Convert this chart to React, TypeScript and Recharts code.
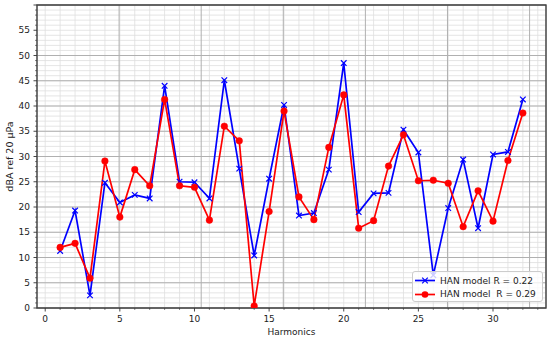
import React from 'react';
import { LineChart, Line, XAxis, YAxis, CartesianGrid, ReferenceArea, Legend } from 'recharts';

const harmonics = [1, 2, 3, 4, 5, 6, 7, 8, 9, 10, 11, 12, 13, 14, 15, 16, 17, 18, 19, 20, 21, 22, 23, 24, 25, 26, 27, 28, 29, 30, 31, 32];
const hanR022 = [11.3, 19.3, 2.5, 24.8, 20.9, 22.4, 21.7, 44.0, 25.0, 24.9, 21.7, 45.1, 27.6, 10.4, 25.6, 40.2, 18.3, 18.8, 27.4, 48.5, 19.0, 22.7, 22.8, 35.3, 30.8, 6.5, 19.8, 29.4, 15.8, 30.4, 30.9, 41.3];
const hanR029 = [12.0, 12.8, 5.9, 29.1, 18.0, 27.4, 24.2, 41.3, 24.2, 23.9, 17.4, 36.0, 33.1, 0.4, 19.1, 39.0, 22.0, 17.5, 31.8, 42.2, 15.8, 17.3, 28.1, 34.3, 25.2, 25.3, 24.7, 16.1, 23.2, 17.2, 29.2, 38.6];
const seriesNames = ['HAN model R = 0.22', 'HAN model  R = 0.29'];
const xMajorTicks = [0, 5, 10, 15, 20, 25, 30];
const xMinorTicks = [0, 1, 2, 3, 4, 5, 6, 7, 8, 9, 10, 11, 12, 13, 14, 15, 16, 17, 18, 19, 20, 21, 22, 23, 24, 25, 26, 27, 28, 29, 30, 31, 32, 33];
const yMajorTicks = [0, 5, 10, 15, 20, 25, 30, 35, 40, 45, 50, 55, 60];
const yLabelTicks = [0, 5, 10, 15, 20, 25, 30, 35, 40, 45, 50, 55];
const yMinorTicks = Array.from({ length: 61 }, (_, i) => i);
const X_DOMAIN: [number, number] = [-0.55, 33.55];
const Y_DOMAIN: [number, number] = [0, 60];

const data = harmonics.map((h, i) => ({ h, a: hanR022[i], b: hanR029[i] }));

const FONT = 'DejaVu Sans, sans-serif';
const BLUE = '#0000ff';
const RED = '#ff0000';

const XTick = (props: any) => {
  const { x, y, payload } = props;
  const v = payload.value;
  const major = xMajorTicks.includes(v);
  return (
    <g>
      <line x1={x} x2={x} y1={y} y2={y + (major ? 3.5 : 2)} stroke="#333" strokeWidth={major ? 0.9 : 0.6} />
      {major && (
        <text x={x} y={y + 13.5} textAnchor="middle" fontSize={9} fill="#222" fontFamily={FONT}>
          {v}
        </text>
      )}
    </g>
  );
};

const YTick = (props: any) => {
  const { x, y, payload } = props;
  const v = payload.value;
  const major = yMajorTicks.includes(v);
  return (
    <g>
      <line x1={x} x2={x - (major ? 3.5 : 2)} y1={y} y2={y} stroke="#333" strokeWidth={major ? 0.9 : 0.6} />
      {yLabelTicks.includes(v) && (
        <text x={x - 7} y={y + 3.2} textAnchor="end" fontSize={9} fill="#222" fontFamily={FONT}>
          {v}
        </text>
      )}
    </g>
  );
};

const XMarker = (props: any) => {
  const { cx, cy } = props;
  if (cx == null || cy == null) return <g />;
  const s = 2.8;
  return (
    <path
      d={`M${cx - s},${cy - s}L${cx + s},${cy + s}M${cx - s},${cy + s}L${cx + s},${cy - s}`}
      stroke={BLUE}
      strokeWidth={1.2}
      fill="none"
    />
  );
};

const LegendBox = () => (
  <div
    style={{
      boxSizing: 'border-box',
      width: 131,
      height: 31,
      border: '1px solid #cccccc',
      borderRadius: 3,
      background: 'rgba(255,255,255,0.8)',
      fontFamily: FONT,
      fontSize: 9,
      color: '#222',
      paddingTop: 2,
    }}
  >
    {[0, 1].map((i) => (
      <div key={i} style={{ display: 'flex', alignItems: 'center', height: 13.5 }}>
        <svg width={26} height={13} style={{ display: 'block' }}>
          <line x1={2} x2={22} y1={6.5} y2={6.5} stroke={i === 0 ? BLUE : RED} strokeWidth={1.7} />
          {i === 0 ? (
            <path d="M9.2,3.7L14.8,9.3M9.2,9.3L14.8,3.7" stroke={BLUE} strokeWidth={1.2} />
          ) : (
            <circle cx={12} cy={6.5} r={3.3} fill={RED} />
          )}
        </svg>
        <span style={{ whiteSpace: 'pre', marginLeft: 1 }}>{seriesNames[i]}</span>
      </div>
    ))}
  </div>
);

export default function App() {
  return (
    <div style={{ position: 'absolute', left: 0, top: 0, width: 550, height: 338, background: '#fff' }}>
      <LineChart width={550} height={338} data={data} margin={{ top: 5, right: 4, left: 0, bottom: 0 }}>
        <XAxis
          dataKey="h"
          type="number"
          domain={X_DOMAIN}
          allowDataOverflow
          ticks={xMinorTicks}
          interval={0}
          tick={<XTick />}
          tickLine={false}
          axisLine={false}
          tickSize={0}
          tickMargin={0}
          height={30}
          label={{ value: 'Harmonics', position: 'insideBottom', offset: 3, fontSize: 9, fill: '#222', fontFamily: FONT }}
        />
        <YAxis
          type="number"
          domain={Y_DOMAIN}
          allowDataOverflow
          ticks={yMinorTicks}
          interval={0}
          tick={<YTick />}
          tickLine={false}
          axisLine={false}
          tickSize={0}
          tickMargin={0}
          width={37}
          label={{ value: 'dBA ref 20 µPa', angle: -90, position: 'center', dx: -9, fontSize: 9.5, fill: '#222', fontFamily: FONT }}
        />
        <XAxis xAxisId="major" hide type="number" domain={X_DOMAIN} allowDataOverflow ticks={xMajorTicks} />
        <YAxis yAxisId="major" hide type="number" domain={Y_DOMAIN} allowDataOverflow ticks={yMajorTicks} />
        <CartesianGrid stroke="#dedede" strokeWidth={0.8} fill="none" />
        <CartesianGrid xAxisId="major" yAxisId="major" stroke="#b0b0b0" strokeWidth={1} fill="none" />
        <ReferenceArea
          x1={X_DOMAIN[0]}
          x2={X_DOMAIN[1]}
          y1={Y_DOMAIN[0]}
          y2={Y_DOMAIN[1]}
          fill="none"
          stroke="#404040"
          strokeWidth={1.3}
          ifOverflow="visible"
        />
        <Line
          dataKey="a"
          name={seriesNames[0]}
          stroke={BLUE}
          strokeWidth={1.7}
          dot={<XMarker />}
          activeDot={false}
          isAnimationActive={false}
        />
        <Line
          dataKey="b"
          name={seriesNames[1]}
          stroke={RED}
          strokeWidth={1.7}
          dot={{ r: 3.3, fill: RED, stroke: RED, strokeWidth: 0.5 }}
          activeDot={false}
          isAnimationActive={false}
        />
        <Legend
          layout="vertical"
          align="center"
          verticalAlign="middle"
          content={<LegendBox />}
          wrapperStyle={{ position: 'absolute', left: 412, top: 271, width: 131, height: 31, margin: 0 }}
        />
      </LineChart>
    </div>
  );
}
